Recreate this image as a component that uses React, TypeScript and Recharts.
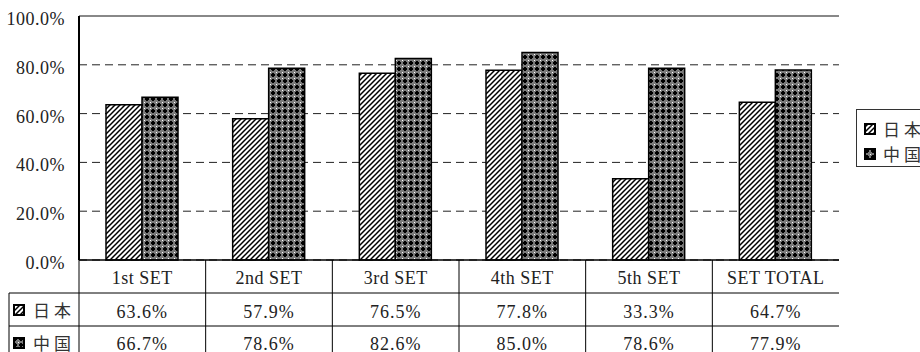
import { Bar, BarChart, CartesianGrid, ReferenceLine, XAxis, YAxis } from "recharts";

const categories = ["1st SET", "2nd SET", "3rd SET", "4th SET", "5th SET", "SET TOTAL"];
const japan = [63.6, 57.9, 76.5, 77.8, 33.3, 64.7];
const china = [66.7, 78.6, 82.6, 85.0, 78.6, 77.9];
const seriesNames = ["日本", "中国"];
const yTicks = [0, 20, 40, 60, 80, 100];

const data = categories.map((name, i) => ({ name, japan: japan[i], china: china[i] }));

const W = 920;
const H = 352;
const LEFT = 79;
const RIGHT = 81;
const TOP = 16;
const TABLE_H = 92;
const PLOT_W = W - LEFT - RIGHT;
const PLOT_BOTTOM = H - TABLE_H;
const ROW_H = 33;

const serif = "'Liberation Serif', serif";
const cjk = "'Noto Sans CJK JP', sans-serif";

const fills = ["url(#hatchJp)", "url(#crossCn)"];

const Swatch = ({ x, y, fill }: { x: number; y: number; fill: string }) => (
  <rect x={x} y={y} width={10} height={10} fill={fill} stroke="#000" strokeWidth={2} />
);

const YTick = (props: any) => {
  const { y, payload } = props;
  return (
    <text x={65} y={y + 9} textAnchor="end" fontFamily={serif} fontSize={18} letterSpacing={0.5} fill="#222">
      {payload.value.toFixed(1)}%
    </text>
  );
};

const XTick = (props: any) => {
  const { x, payload } = props;
  const i = payload.index ?? props.index;
  const bw = PLOT_W / categories.length;
  const left = x - bw / 2;
  const right = x + bw / 2;
  const r1 = PLOT_BOTTOM + ROW_H;
  const r2 = r1 + ROW_H;
  const txt = { fontFamily: serif, fontSize: 18, fill: "#222", textAnchor: "middle" as const };
  return (
    <g>
      <line x1={left} y1={PLOT_BOTTOM} x2={left} y2={H} stroke="#000" />
      <line x1={left} y1={r1} x2={right} y2={r1} stroke="#000" />
      <line x1={left} y1={r2} x2={right} y2={r2} stroke="#000" />
      <text x={x} y={PLOT_BOTTOM + 24} letterSpacing={0.5} {...txt}>{payload.value}</text>
      <text x={x} y={r1 + 25} letterSpacing={1} {...txt}>{japan[i].toFixed(1)}%</text>
      <text x={x} y={r2 + 24} letterSpacing={1} {...txt}>{china[i].toFixed(1)}%</text>
      {i === 0 && (
        <g>
          <line x1={9} y1={r1} x2={left} y2={r1} stroke="#000" />
          <line x1={9} y1={r2} x2={left} y2={r2} stroke="#000" />
          <line x1={9} y1={r1} x2={9} y2={H} stroke="#000" />
          {seriesNames.map((s, k) => (
            <g key={s}>
              <Swatch x={14} y={r1 + k * ROW_H + 12} fill={fills[k]} />
              <text x={33} y={r1 + k * ROW_H + 24} fontFamily={cjk} fontSize={17} letterSpacing={4} fill="#333">
                {s}
              </text>
            </g>
          ))}
        </g>
      )}
    </g>
  );
};

export default function App() {
  return (
    <div style={{ position: "absolute", left: 0, top: 0, width: W, height: H, background: "#fff" }}>
      <svg width={0} height={0} style={{ position: "absolute" }}>
        <defs>
          <pattern id="hatchJp" width={5} height={5} patternUnits="userSpaceOnUse">
            <rect width={5} height={5} fill="#fff" />
            <path d="M-1,1 L1,-1 M0,5 L5,0 M4,6 L6,4" stroke="#000" strokeWidth={1.5} />
          </pattern>
          <pattern id="crossCn" width={6} height={6} patternUnits="userSpaceOnUse">
            <rect width={6} height={6} fill="#7a7a7a" />
            <rect x={2} y={1} width={2} height={4} fill="#000" />
            <rect x={1} y={2} width={4} height={2} fill="#000" />
            <rect x={0} y={0} width={1} height={1} fill="#fff" />
          </pattern>
        </defs>
      </svg>
      <BarChart
        width={W}
        height={H}
        data={data}
        margin={{ top: TOP, right: RIGHT, left: 0, bottom: 0 }}
        barGap={0}
      >
        <CartesianGrid vertical={false} stroke="#222" strokeDasharray="8 5" />
        <XAxis
          dataKey="name"
          height={TABLE_H}
          interval={0}
          tickLine={false}
          axisLine={{ stroke: "#000", strokeWidth: 1.5 }}
          tick={<XTick />}
        />
        <YAxis
          domain={[0, 100]}
          ticks={yTicks}
          interval={0}
          width={LEFT}
          tickLine={false}
          axisLine={{ stroke: "#000", strokeWidth: 2 }}
          tick={<YTick />}
        />
        <YAxis yAxisId="right" orientation="right" width={0} tick={false} tickLine={false} axisLine={{ stroke: "#888", strokeWidth: 2 }} />
        <ReferenceLine y={100} stroke="#888" strokeWidth={2} />
        <Bar dataKey="japan" name={seriesNames[0]} fill={fills[0]} stroke="#000" strokeWidth={1.5} barSize={36} isAnimationActive={false} />
        <Bar dataKey="china" name={seriesNames[1]} fill={fills[1]} stroke="#000" strokeWidth={1.5} barSize={36} isAnimationActive={false} />
      </BarChart>
      <div
        style={{
          position: "absolute",
          left: 856,
          top: 109,
          width: 80,
          height: 58,
          border: "1px solid #333",
          boxSizing: "border-box",
        }}
      >
        {seriesNames.map((s, k) => (
          <div key={s} style={{ position: "absolute", left: 7, top: 9 + k * 25, display: "flex", alignItems: "center" }}>
            <svg width={12} height={12}>
              <Swatch x={1} y={1} fill={fills[k]} />
            </svg>
            <span style={{ marginLeft: 7, fontFamily: cjk, fontSize: 17, letterSpacing: 4, color: "#333", lineHeight: "20px" }}>
              {s}
            </span>
          </div>
        ))}
      </div>
    </div>
  );
}
